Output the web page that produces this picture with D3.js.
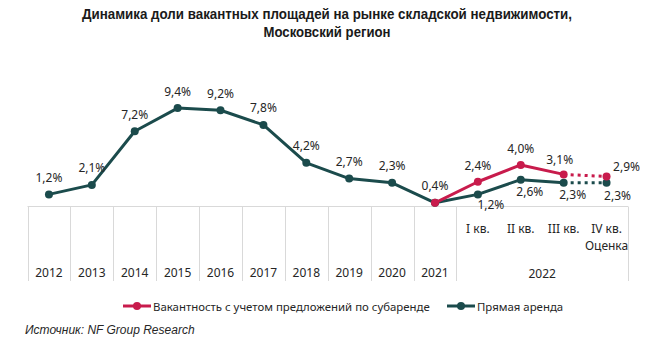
<!DOCTYPE html>
<html>
<head>
<meta charset="utf-8">
<script src="https://cdn.jsdelivr.net/npm/d3@7"></script>
<style>
  html, body { margin: 0; padding: 0; background: #fff; }
  svg { display: block; }
  .title { font-family: "Liberation Sans", Arial, sans-serif; font-weight: bold; font-size: 15px; fill: #1a1a1a; }
  .lbl { font-family: "Noto Sans", "Open Sans", sans-serif; font-size: 12px; fill: #262626; }
  .legend .lbl { font-size: 11.4px; }
  .source { font-family: "Liberation Sans", Arial, sans-serif; font-style: italic; font-size: 12px; fill: #262626; }
</style>
</head>
<body>
<svg id="chart" width="671" height="343"></svg>
<script>
  // categories on the axis: years, then quarters of 2022
  var categories = ['2012', '2013', '2014', '2015', '2016', '2017', '2018', '2019', '2020', '2021',
    'I кв.', 'II кв.', 'III кв.', 'IV кв.'];
  var quarterYear = '2022';
  var estimateNote = 'Оценка';

  // vacancy, %
  var directLease = [1.2, 2.1, 7.2, 9.4, 9.2, 7.8, 4.2, 2.7, 2.3, 0.4, 1.2, 2.6, 2.3, 2.3];
  var withSublease = [null, null, null, null, null, null, null, null, null, 0.4, 2.4, 4.0, 3.1, 2.9];

  var seriesNames = ['Вакантность с учетом предложений по субаренде', 'Прямая аренда'];
  var titleLines = ['Динамика доли вакантных площадей на рынке складской недвижимости,', 'Московский регион'];
  var sourceText = 'Источник: NF Group Research';

  var teal = '#1b4b4c';
  var red = '#c81b4c';
  var gridColor = '#d9d9d9';
  var firstQuarter = 10;   // index of I кв.
  var lastActual = 12;     // after this point the line is an estimate (dotted)

  var svg = d3.select('#chart');

  var x = d3.scaleBand().domain(categories).range([27.5, 628]).padding(0);
  var y = d3.scaleLinear().domain([0, 10]).range([207, 101.8]);

  function cx(i) {
    return x(categories[i]) + x.bandwidth() / 2;
  }

  // title, squeezed like a narrow font
  svg.selectAll('text.title')
    .data(titleLines)
    .enter().append('text')
    .attr('class', 'title')
    .attr('x', 327)
    .attr('y', function(d, i) { return 19 + i * 18; })
    .attr('text-anchor', 'middle')
    .attr('textLength', function(d, i) { return i === 0 ? 490 : 127; })
    .attr('lengthAdjust', 'spacingAndGlyphs')
    .text(function(d) { return d; });

  // category axis (multi-level)
  var axis = svg.append('g').attr('class', 'axis');
  axis.append('line')
    .attr('x1', x.range()[0]).attr('x2', x.range()[1])
    .attr('y1', 206.5).attr('y2', 206.5)
    .attr('stroke', gridColor);

  var ticks = categories.slice(0, firstQuarter + 1).map(function(c) { return x(c); });
  ticks.push(x.range()[1]);
  axis.selectAll('line.tick')
    .data(ticks)
    .enter().append('line')
    .attr('class', 'tick')
    .attr('x1', function(d) { return Math.round(d) + 0.5; })
    .attr('x2', function(d) { return Math.round(d) + 0.5; })
    .attr('y1', 206.5).attr('y2', 281)
    .attr('stroke', gridColor);

  axis.selectAll('text.cat')
    .data(categories)
    .enter().append('text')
    .attr('class', 'lbl cat')
    .attr('x', function(d) { return x(d) + x.bandwidth() / 2; })
    .attr('y', function(d, i) { return i < firstQuarter ? 277 : 233; })
    .attr('text-anchor', 'middle')
    .text(function(d) { return d; });

  axis.append('text')
    .attr('class', 'lbl')
    .attr('x', cx(categories.length - 1))
    .attr('y', 250)
    .attr('text-anchor', 'middle')
    .text(estimateNote);

  axis.append('text')
    .attr('class', 'lbl')
    .attr('x', (x(categories[firstQuarter]) + x.range()[1]) / 2)
    .attr('y', 278)
    .attr('text-anchor', 'middle')
    .text(quarterYear);

  // lines
  var line = d3.line()
    .defined(function(d) { return d.v !== null; })
    .x(function(d) { return cx(d.i); })
    .y(function(d) { return y(d.v); });

  function points(values) {
    return values.map(function(v, i) { return { i: i, v: v }; });
  }

  function drawSeries(values, color, labelPos) {
    var pts = points(values);
    var g = svg.append('g');
    g.append('path')
      .datum(pts.slice(0, lastActual + 1))
      .attr('d', line)
      .attr('fill', 'none')
      .attr('stroke', color)
      .attr('stroke-width', 3)
      .attr('stroke-linejoin', 'round');
    g.append('path')
      .datum(pts.slice(lastActual))
      .attr('d', line)
      .attr('fill', 'none')
      .attr('stroke', color)
      .attr('stroke-width', 3)
      .attr('stroke-dasharray', '3,4');

    var shown = pts.filter(function(d) { return d.v !== null; });
    g.selectAll('circle')
      .data(shown)
      .enter().append('circle')
      .attr('cx', function(d) { return cx(d.i); })
      .attr('cy', function(d) { return y(d.v); })
      .attr('r', 4)
      .attr('fill', color);

    g.selectAll('text')
      .data(shown.filter(function(d) { return labelPos(d) !== null; }))
      .enter().append('text')
      .attr('class', 'lbl')
      .attr('x', function(d) { return cx(d.i) + labelPos(d)[0]; })
      .attr('y', function(d) { return y(d.v) + labelPos(d)[1]; })
      .attr('text-anchor', 'middle')
      .attr('dominant-baseline', 'central')
      .text(function(d) { return d3.format('.1f')(d.v).replace('.', ',') + '%'; });
  }

  drawSeries(directLease, teal, function(d) {
    if (d.i < firstQuarter) return [0, -17];
    if (d.i === categories.length - 1) return [11, 13];
    if (d.i === firstQuarter) return [13, 10];
    return [9, 12];
  });

  drawSeries(withSublease, red, function(d) {
    if (d.i < firstQuarter) return null;
    if (d.i === categories.length - 1) return [20, -10];
    if (d.i === lastActual) return [-4, -15];
    return [0, -16];
  });

  // legend
  var legend = svg.append('g').attr('class', 'legend');
  var legendItems = [
    { name: seriesNames[0], color: red, x: 123 },
    { name: seriesNames[1], color: teal, x: 447 }
  ];
  var li = legend.selectAll('g')
    .data(legendItems)
    .enter().append('g')
    .attr('transform', function(d) { return 'translate(' + d.x + ',306)'; });
  li.append('line')
    .attr('x1', 0).attr('x2', 28)
    .attr('stroke', function(d) { return d.color; })
    .attr('stroke-width', 3);
  li.append('circle')
    .attr('cx', 14).attr('r', 4)
    .attr('fill', function(d) { return d.color; });
  li.append('text')
    .attr('class', 'lbl')
    .attr('x', 30)
    .attr('dominant-baseline', 'central')
    .text(function(d) { return d.name; });

  svg.append('text')
    .attr('class', 'source')
    .attr('x', 25)
    .attr('y', 334)
    .text(sourceText);
</script>
</body>
</html>
